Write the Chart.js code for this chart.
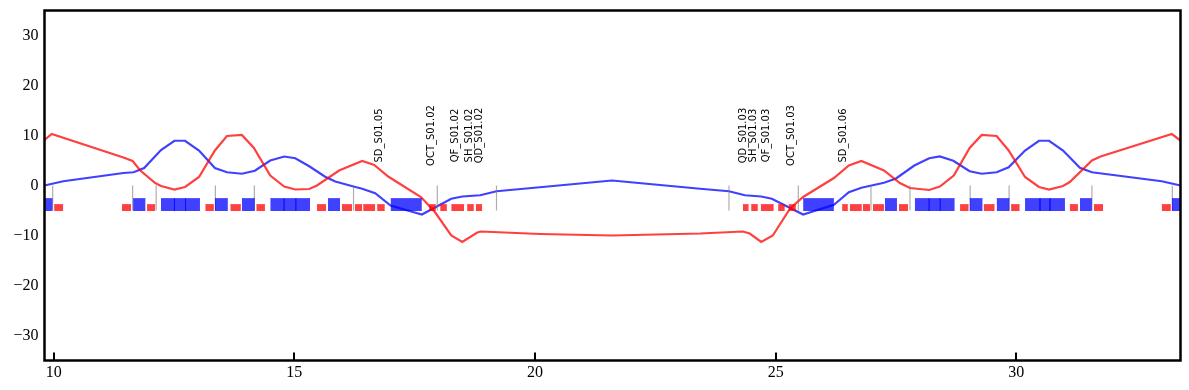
<!DOCTYPE html>
<html lang="en">
<head>
    <meta charset="UTF-8">
    <title>Lattice functions</title>
    <style>
        html, body { margin: 0; padding: 0; background: #fff; }
        #wrap { width: 1189px; height: 390px; }
    </style>
</head>
<body>
<div id="wrap"><canvas id="myChart" width="1189" height="390"></canvas></div>
<script src="https://cdn.jsdelivr.net/npm/chart.js"></script>
<script>
// tick labels
const xTicks = [10, 15, 20, 25, 30];
const yTicks = [-30, -20, -10, 0, 10, 20, 30];

// red optics curve: s, value
const redS = [9.81, 9.96, 11.45, 11.64, 11.80, 12.11, 12.23, 12.51, 12.73, 13.02, 13.35, 13.60, 13.91, 14.16, 14.50, 14.79, 15.02, 15.31, 15.47, 15.93, 16.41, 16.66, 16.95, 17.63, 17.92, 18.26, 18.49, 18.80, 18.88, 20.10, 21.60, 23.43, 24.32, 24.46, 24.70, 24.94, 25.30, 25.57, 26.21, 26.52, 26.78, 27.25, 27.58, 27.79, 28.19, 28.41, 28.70, 29.03, 29.28, 29.59, 29.84, 30.18, 30.47, 30.68, 30.97, 31.11, 31.57, 31.75, 33.23, 33.41];
const redV = [9.1, 10.3, 5.6, 4.9, 3.0, 0.5, -0.1, -0.8, -0.3, 1.7, 7.0, 9.9, 10.1, 7.5, 2.0, -0.2, -0.8, -0.7, 0, 3.0, 4.9, 4.1, 1.8, -2.3, -5.3, -10, -11.3, -9.4, -9.2, -9.7, -10, -9.6, -9.2, -9.6, -11.3, -10, -4.6, -2.3, 1.5, 4.0, 4.9, 3.0, 0.5, -0.5, -0.9, -0.2, 2.0, 7.5, 10.1, 9.9, 7.0, 1.7, -0.3, -0.8, -0.1, 0.7, 5.0, 5.8, 10.3, 9.0];

// blue optics curve: s, value
const blueS = [9.81, 10.20, 11.45, 11.66, 11.88, 12.23, 12.51, 12.73, 13.02, 13.35, 13.60, 13.91, 14.18, 14.50, 14.79, 15.02, 15.31, 15.64, 15.85, 16.23, 16.41, 16.68, 17.00, 17.65, 18.26, 18.49, 18.86, 19.20, 20.10, 21.60, 23.43, 24.03, 24.36, 24.70, 24.92, 25.57, 26.21, 26.52, 26.78, 27.25, 27.50, 27.88, 28.19, 28.41, 28.69, 29.03, 29.28, 29.59, 29.84, 30.18, 30.47, 30.68, 30.97, 31.32, 31.57, 33.02, 33.41];
const blueV = [0, 0.85, 2.5, 2.65, 3.5, 7.1, 8.95, 8.95, 7.0, 3.5, 2.65, 2.35, 2.95, 5.0, 5.8, 5.45, 3.85, 1.75, 0.8, -0.2, -0.65, -1.55, -4.0, -5.8, -2.65, -2.2, -1.95, -1.15, -0.35, 1.0, -0.65, -1.15, -1.95, -2.2, -2.65, -5.8, -3.85, -1.35, -0.45, 0.55, 1.4, 4.0, 5.45, 5.8, 4.95, 2.85, 2.35, 2.65, 3.65, 7.0, 8.95, 8.95, 7.0, 3.55, 2.65, 0.85, 0];

// magnets, start and end in s
const blueStart = [9.5, 11.65, 12.23, 12.51, 12.74, 13.35, 13.91, 14.50, 14.79, 15.03, 15.70, 17.00, 25.57, 27.27, 27.89, 28.19, 28.42, 29.03, 29.59, 30.18, 30.49, 30.70, 31.32, 33.23];
const blueEnd = [9.98, 11.91, 12.51, 12.74, 13.04, 13.62, 14.18, 14.79, 15.03, 15.33, 15.95, 17.65, 26.21, 27.52, 28.19, 28.42, 28.72, 29.30, 29.86, 30.49, 30.70, 31.01, 31.57, 33.6];
const redStart = [10.01, 11.42, 11.94, 13.15, 13.67, 14.21, 15.47, 15.99, 16.26, 16.43, 16.72, 17.80, 18.03, 18.26, 18.59, 18.77, 24.32, 24.49, 24.69, 25.05, 25.27, 26.38, 26.54, 26.81, 27.02, 27.56, 28.83, 29.32, 29.89, 31.11, 31.61, 33.02];
const redEnd = [10.20, 11.61, 12.11, 13.33, 13.89, 14.39, 15.66, 16.20, 16.41, 16.68, 16.88, 17.94, 18.17, 18.53, 18.73, 18.90, 24.44, 24.63, 24.96, 25.19, 25.42, 26.50, 26.79, 26.96, 27.25, 27.75, 29.01, 29.55, 30.07, 31.28, 31.80, 33.21];
// where two blue magnets touch
const blueJoin = [12.51, 12.74, 14.79, 15.03, 28.19, 28.42, 30.49, 30.70];
const blueTop = -2.6;
const redTop = -3.8;
const magnetBottom = -5.1;

// grey markers
const markerS = [9.98, 11.64, 12.13, 13.36, 14.17, 16.23, 17.97, 19.20, 24.03, 25.47, 26.98, 27.79, 29.04, 29.85, 31.57, 33.24];

// element names
const labelNames = ['SD_S01.05', 'OCT_S01.02', 'QF_S01.02', 'SH_S01.02', 'QD_S01.02', 'QD_S01.03', 'SH_S01.03', 'QF_S01.03', 'OCT_S01.03', 'SD_S01.06'];
const labelS = [16.77, 17.85, 18.34, 18.63, 18.84, 24.33, 24.53, 24.80, 25.32, 26.40];

function pares(xs, ys) {
    return xs.map((x, i) => ({ x: x, y: ys[i] }));
}

function magnetos(inicio, fim, topo, cor) {
    return inicio.map((x, i) => ({
        type: 'line',
        data: [{ x: x, y: topo }, { x: fim[i], y: topo }],
        borderColor: cor,
        borderWidth: 0.6,
        backgroundColor: cor,
        fill: { value: magnetBottom },
        pointRadius: 0
    }));
}

function verticais(xs, y0, y1, cor, largura) {
    return xs.map(x => ({
        type: 'line',
        data: [{ x: x, y: y0 }, { x: x, y: y1 }],
        borderColor: cor,
        borderWidth: largura,
        pointRadius: 0
    }));
}

const curvas = [
    { data: pares(redS, redV), borderColor: 'rgba(255,0,0,0.75)', borderWidth: 2.2, pointRadius: 0, tension: 0 },
    { data: pares(blueS, blueV), borderColor: 'rgba(0,0,255,0.75)', borderWidth: 2.2, pointRadius: 0, tension: 0 }
];

// inward ticks on the bottom only, frame and rotated names
const extras = {
    id: 'extras',
    afterDatasetsDraw(chart) {
        const { ctx, chartArea: a, scales } = chart;
        ctx.save();
        ctx.fillStyle = '#000';
        ctx.font = '10px "DejaVu Sans"';
        ctx.textAlign = 'center';
        ctx.textBaseline = 'middle';
        labelNames.forEach((nome, i) => {
            ctx.save();
            ctx.translate(scales.x.getPixelForValue(labelS[i]), scales.y.getPixelForValue(10));
            ctx.rotate(-Math.PI / 2);
            ctx.fillText(nome, 0, 0);
            ctx.restore();
        });
        ctx.strokeStyle = '#000';
        ctx.lineWidth = 2;
        xTicks.forEach(t => {
            const px = Math.round(scales.x.getPixelForValue(t));
            ctx.beginPath();
            ctx.moveTo(px, a.bottom);
            ctx.lineTo(px, a.bottom - 8);
            ctx.stroke();
        });
        ctx.lineWidth = 2.5;
        ctx.strokeRect(a.left, a.top, a.right - a.left, a.bottom - a.top);
        ctx.restore();
    }
};

const fonte = { family: '"Liberation Serif"', size: 16 };

new Chart(document.getElementById('myChart'), {
    type: 'line',
    data: { datasets: [
        ...magnetos(blueStart, blueEnd, blueTop, 'rgba(0,0,255,0.75)'),
        ...magnetos(redStart, redEnd, redTop, 'rgba(255,0,0,0.75)'),
        ...verticais(blueJoin, blueTop, magnetBottom, 'rgba(0,0,255,0.6)', 1),
        ...verticais(markerS, 0, -5, 'rgba(120,120,120,0.6)', 1.2),
        ...curvas
    ] },
    options: {
        responsive: false,
        animation: false,
        layout: { padding: { left: 0, top: 10.5, right: 8.5, bottom: 0 } },
        plugins: { legend: { display: false }, tooltip: { enabled: false } },
        scales: {
            x: {
                type: 'linear',
                min: 9.81,
                max: 33.41,
                grid: { display: false, drawTicks: false },
                border: { display: false },
                afterBuildTicks(scale) { scale.ticks = xTicks.map(v => ({ value: v })); },
                afterFit(scale) { scale.height = 29.5; scale.paddingLeft = 0; scale.paddingRight = 0; },
                ticks: { color: '#000', font: fonte, padding: 3, maxRotation: 0, autoSkip: false, callback: v => String(v) }
            },
            y: {
                min: -35,
                max: 35,
                position: 'left',
                grid: { display: false, drawTicks: false },
                border: { display: false },
                afterBuildTicks(scale) { scale.ticks = yTicks.map(v => ({ value: v })); },
                afterFit(scale) { scale.width = 44.5; scale.paddingTop = 0; scale.paddingBottom = 0; },
                ticks: { color: '#000', font: fonte, padding: 6, callback: v => String(v).replace('-', '\u2212') }
            }
        }
    },
    plugins: [extras]
});
</script>
</body>
</html>
